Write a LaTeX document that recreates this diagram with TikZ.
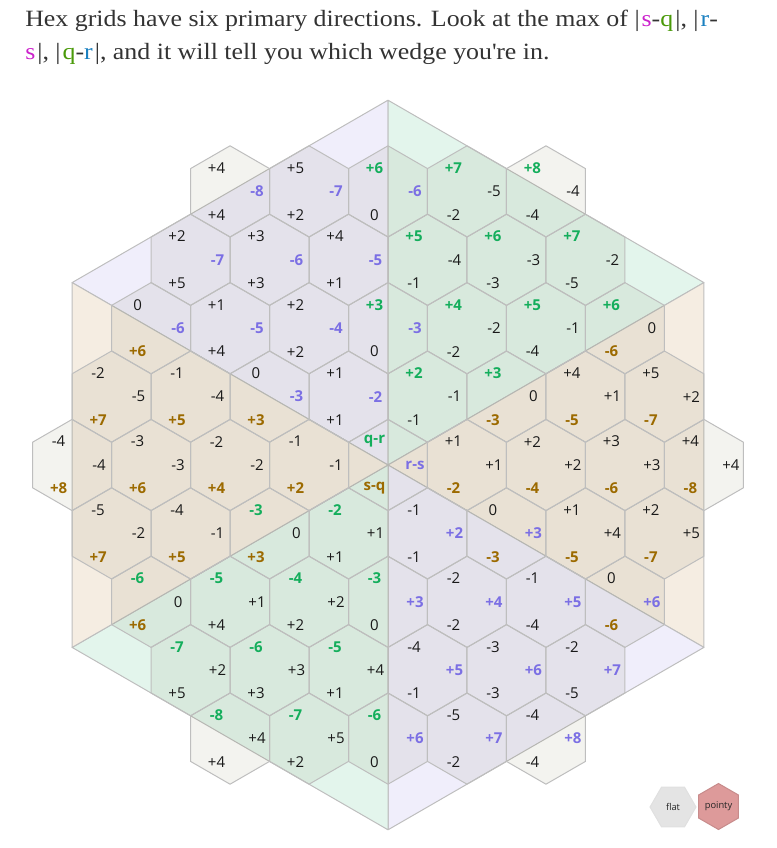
\documentclass[tikz,border=0pt]{standalone}
\usepackage{fontspec}
\setmainfont{Liberation Serif}
\newfontfamily\titlefont[FakeStretch=1.11]{Liberation Serif}
\newfontfamily\cellfont{Open Sans}
\usetikzlibrary{calc}
\definecolor{inktext}{HTML}{333333}
\definecolor{qrcol}{HTML}{14AE5C}
\definecolor{rscol}{HTML}{7B6FE4}
\definecolor{sqcol}{HTML}{9C6A00}
\definecolor{wedgeqr}{HTML}{E3F5EC}
\definecolor{wedgers}{HTML}{F0EEFB}
\definecolor{wedgesq}{HTML}{F5EDE2}
\definecolor{hexshade}{HTML}{606030}
\definecolor{edgegray}{HTML}{BEBEBE}
\definecolor{titles}{HTML}{CC22CC}
\definecolor{titleq}{HTML}{4A9A0A}
\definecolor{titler}{HTML}{1A80C0}
\definecolor{flatfill}{HTML}{E4E4E4}
\definecolor{pointyfill}{HTML}{DD9A9A}
\tikzset{
  wedge/.style={draw=edgegray,line width=0.75pt,line join=round},
  hexcell/.style={draw=edgegray,line width=0.75pt,fill=hexshade,fill opacity=0.08,line join=round},
  cellnum/.style={font=\cellfont\fontsize{11.25}{12}\selectfont,text=black!90,inner sep=0pt},
  wedgenum/.style={font=\cellfont\bfseries\fontsize{11.25}{12}\selectfont},
  titletext/.style={font=\titlefont\fontsize{17.5}{20}\selectfont,text=inktext,inner sep=0pt,anchor=base west},
  btnlabel/.style={font=\cellfont\fontsize{7}{8}\selectfont,text=black!85,inner sep=0pt}
}
\newcommand\signed[1]{\ifnum#1>0 +\fi#1}
\newcommand\absbars[1]{|\kern1.5pt#1\kern1.5pt|}
\newcommand\hexnum[6]{%
  \pgfmathtruncatemacro\absval{abs(#4)}%
  \ifnum\absval=#5\relax
    \node[cellnum,wedgenum,text=#6] (#1) at ($(#2)+(#3)$) {\signed{#4}};%
  \else
    \node[cellnum] (#1) at ($(#2)+(#3)$) {\signed{#4}};%
  \fi}

\begin{document}
\begin{tikzpicture}[x=0.75pt,y=-0.75pt]
  \useasboundingbox (0,0) rectangle (776,848);

  % Title
  \node[titletext] (line1) at (25,26.7) {Hex grids have six primary directions. Look at the max of \absbars{{\color{titles}s}-{\color{titleq}q}}, |\kern1.5pt{\color{titler}r}-};
  \node[titletext] (line2) at (25,60) {{\color{titles}s}\kern1.5pt|, \absbars{{\color{titleq}q}-{\color{titler}r}}, and it will tell you which wedge you\textquotesingle re in.};

  % Six wedges
  \coordinate (C) at (388,465);
  \coordinate (vT) at (388,100.2);
  \coordinate (vTR) at (703.9,282.6);
  \coordinate (vBR) at (703.9,647.4);
  \coordinate (vB) at (388,829.8);
  \coordinate (vBL) at (72.1,647.4);
  \coordinate (vTL) at (72.1,282.6);
  \filldraw[wedge,fill=wedgers] (C) -- (vTL) -- (vT) -- cycle;
  \filldraw[wedge,fill=wedgeqr] (C) -- (vT) -- (vTR) -- cycle;
  \filldraw[wedge,fill=wedgesq] (C) -- (vTR) -- (vBR) -- cycle;
  \filldraw[wedge,fill=wedgers] (C) -- (vBR) -- (vB) -- cycle;
  \filldraw[wedge,fill=wedgeqr] (C) -- (vB) -- (vBL) -- cycle;
  \filldraw[wedge,fill=wedgesq] (C) -- (vBL) -- (vTL) -- cycle;

  % Hex grid, radius 4
  \foreach \q in {-4,...,4}{
    \foreach \r in {-4,...,4}{
      \pgfmathtruncatemacro\s{-\q-\r}
      \pgfmathtruncatemacro\far{abs(\s)}
      \ifnum\far<5
        \pgfmathsetmacro\hx{388+78.98*(\q+\r/2)}
        \pgfmathsetmacro\hy{465+68.4*\r}
        \coordinate (h\q\r) at (\hx,\hy);
        \draw[hexcell] (h\q\r) +(30:45.6) -- +(90:45.6) -- +(150:45.6) -- +(210:45.6) -- +(270:45.6) -- +(330:45.6) -- cycle;
        \pgfmathtruncatemacro\vqr{\q-\r}
        \pgfmathtruncatemacro\vrs{\r-\s}
        \pgfmathtruncatemacro\vsq{\s-\q}
        \pgfmathtruncatemacro\vmax{max(abs(\vqr),abs(\vrs),abs(\vsq))}
        \ifnum\vmax>0
          \hexnum{qr\q\r}{h\q\r}{-13.5,-23.4}{\vqr}{\vmax}{qrcol}
          \hexnum{rs\q\r}{h\q\r}{27,0}{\vrs}{\vmax}{rscol}
          \hexnum{sq\q\r}{h\q\r}{-13.5,23.4}{\vsq}{\vmax}{sqcol}
        \fi
      \fi
    }
  }
  % Centre hex
  \node[cellnum,wedgenum,text=qrcol] (qrmid) at ($(C)+(-13.5,-23.4)$) {q-r};
  \node[cellnum,wedgenum,text=rscol] (rsmid) at ($(C)+(27,0)$) {r-s};
  \node[cellnum,wedgenum,text=sqcol] (sqmid) at ($(C)+(-13.5,23.4)$) {s-q};

  % Buttons
  \coordinate (flatc) at (673,807);
  \coordinate (pointyc) at (718.5,806.5);
  \filldraw[draw=black!12,fill=flatfill,line width=0.75pt] (flatc) +(0:23) -- +(60:23) -- +(120:23) -- +(180:23) -- +(240:23) -- +(300:23) -- cycle;
  \filldraw[draw=pointyfill!90!black,fill=pointyfill,line width=0.75pt] (pointyc) +(30:23) -- +(90:23) -- +(150:23) -- +(210:23) -- +(270:23) -- +(330:23) -- cycle;
  \node[btnlabel] (flatlabel) at (flatc) {flat};
  \node[btnlabel] (pointylabel) at (pointyc) {pointy};
\end{tikzpicture}
\end{document}
